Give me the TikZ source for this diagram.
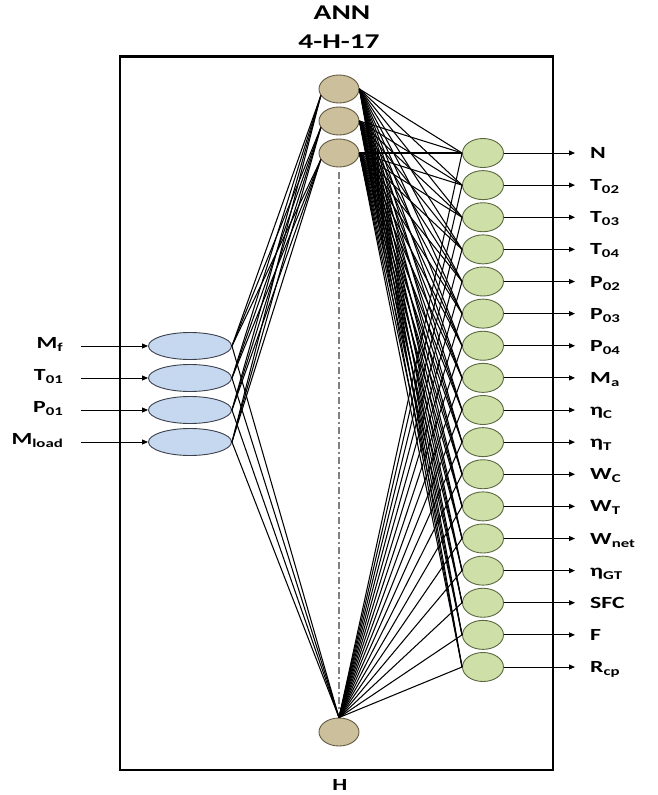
\documentclass[tikz,border=0pt]{standalone}
\usepackage{fontspec}
\setmainfont{Carlito}[FakeStretch=1.4]
\usetikzlibrary{arrows.meta,shapes.geometric}

\definecolor{hidfill}{RGB}{203,192,155}
\definecolor{hidline}{RGB}{100,90,65}
\definecolor{outfill}{RGB}{207,223,168}
\definecolor{outline}{RGB}{90,105,65}
\definecolor{infill}{RGB}{198,216,240}
\definecolor{inline}{RGB}{60,65,75}

% lowered subscript used in the labels
\newcommand\sbs[1]{\raisebox{-3pt}{\fontsize{12}{12}\selectfont #1}}

\begin{document}
\begin{tikzpicture}[x=1pt,y=-1pt,
  hid/.style={ellipse, draw=hidline, fill=hidfill, line width=0.9pt,
              minimum width=40pt, minimum height=28pt, inner sep=0pt},
  outn/.style={ellipse, draw=outline, fill=outfill, line width=0.9pt,
              minimum width=41pt, minimum height=29pt, inner sep=0pt},
  inn/.style={ellipse, draw=inline, fill=infill, line width=0.9pt,
              minimum width=83pt, minimum height=27pt, inner sep=0pt},
  lbl/.style={inner sep=0pt, font=\fontsize{17}{17}\selectfont\bfseries},
  ttl/.style={inner sep=0pt, font=\fontsize{21}{21}\selectfont\bfseries},
  conn/.style={line width=1.05pt, black},
  io/.style={line width=1pt, -{Triangle[length=6pt,width=5pt]}},
  frame/.style={line width=2.6pt}
]
\useasboundingbox (0,0) rectangle (657,795);

% titles
\node[ttl, anchor=base] (tann) at (342,19.5) {ANN};
\node[ttl, anchor=base] (tarch) at (339,48.5) {4-H-17};
\node[lbl, anchor=base] (thid) at (340,790) {H};

% outer frame
\draw[frame] (120,56.5) rectangle (553,770);

% hidden layer
\node[hid] (h1) at (339,89) {};
\node[hid] (h2) at (339,121) {};
\node[hid] (h3) at (339,153) {};
\node[hid] (h4) at (339,732) {};
\coordinate (d1) at (339,172);
\coordinate (d2) at (339,712);
\draw[gray, line width=1.3pt, dash pattern=on 7pt off 3pt on 2pt off 3pt] (d1) -- (d2);

% input layer
\foreach \k/\txt in {1/M\sbs{f}, 2/T\sbs{01}, 3/P\sbs{01}, 4/M\sbs{load}}{
  \pgfmathsetmacro\yy{346+32*(\k-1)}
  \node[inn] (i\k) at (190,\yy) {};
  \coordinate (ia\k) at (81,\yy);
  \node[lbl, anchor=base east] (il\k) at (63,\yy+2.5) {\txt};
  \draw[io] (ia\k) -- (i\k);
}

% output layer
\foreach \k/\txt in {1/N, 2/T\sbs{02}, 3/T\sbs{03}, 4/T\sbs{04},
                     5/P\sbs{02}, 6/P\sbs{03}, 7/P\sbs{04}, 8/M\sbs{a},
                     9/η\sbs{C}, 10/η\sbs{T}, 11/W\sbs{C}, 12/W\sbs{T},
                     13/W\sbs{net}, 14/η\sbs{GT}, 15/SFC, 16/F, 17/R\sbs{cp}}{
  \pgfmathsetmacro\yy{153+32.125*(\k-1)}
  \node[outn] (o\k) at (483,\yy) {};
  \coordinate (oa\k) at (575,\yy);
  \node[lbl, anchor=base west] (ol\k) at (590,\yy+5.5) {\txt};
  \draw[io] (o\k) -- (oa\k);
}

% weights: input -> hidden (from the right tip of each input unit)
\foreach \i in {1,...,4}{
  \foreach \h in {h1,h2,h3}
    \draw[conn] (i\i.east) -- (\h.200);
  \draw[conn] (i\i.east) -- (h4.north);
}

% weights: hidden -> output (into the left tip of each output unit)
\foreach \o in {1,...,17}{
  \foreach \h in {h1,h2,h3}
    \draw[conn] (\h.east) -- (o\o.west);
  \draw[conn] (h4.north) -- (o\o.west);
}
\end{tikzpicture}
\end{document}
